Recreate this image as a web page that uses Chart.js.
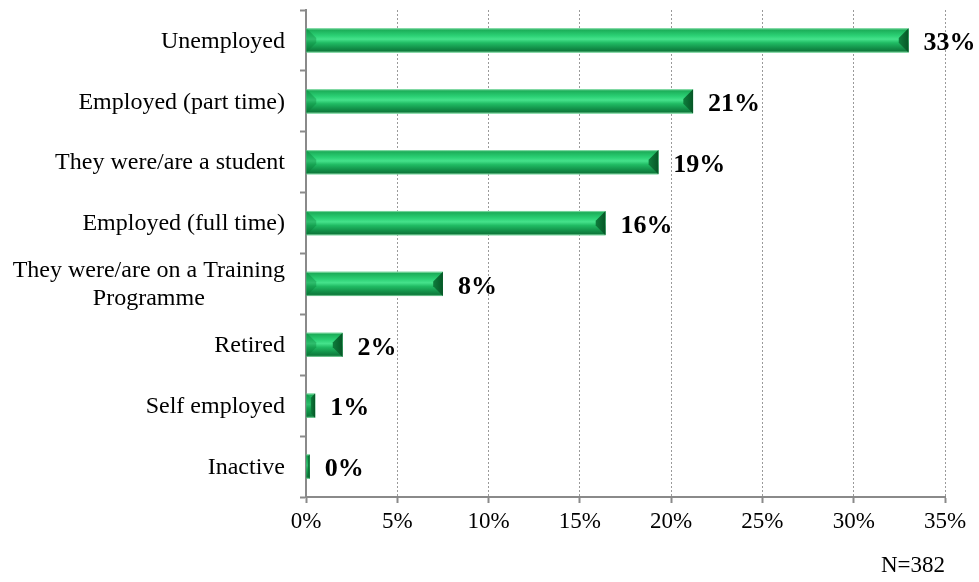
<!DOCTYPE html>
<html>
<head>
<meta charset="utf-8">
<title>Employment status</title>
<script src="https://cdn.jsdelivr.net/npm/chart.js@4.4.1/dist/chart.umd.min.js"></script>
<style>
  html, body { margin: 0; padding: 0; background: #fff; }
  #wrap { width: 979px; height: 582px; }
</style>
</head>
<body>
<div id="wrap"><canvas id="statusChart"></canvas></div>
<script>
const categories = [
  "Unemployed",
  "Employed (part time)",
  "They were/are a student",
  "Employed (full time)",
  ["They were/are on a Training", "Programme"],
  "Retired",
  "Self employed",
  "Inactive"
];
const shares = [33.0, 21.2, 19.3, 16.4, 7.5, 2.0, 0.5, 0.2];
const xTickValues = [0, 5, 10, 15, 20, 25, 30, 35];
const sampleNote = "N=382";

const SERIF = "'Liberation Serif', 'Times New Roman', serif";
const AXIS_GREY = "#8a8a8a";

function pct(v){ return Math.round(v) + "%"; }

// shading over each bar: rounded tube look with bevelled ends
const bevelBars = {
  id: "bevelBars",
  afterDatasetsDraw(chart){
    const c = chart.ctx;
    chart.getDatasetMeta(0).data.forEach(bar=>{
      const p = bar.getProps(["x","y","base","height"], true);
      const top = p.y - p.height/2, bot = p.y + p.height/2;
      const left = Math.min(p.base, p.x), right = Math.max(p.base, p.x);
      const w = right - left, h = bot - top;
      if (w <= 0) return;

      const g = c.createLinearGradient(0, top, 0, bot);
      g.addColorStop(0, "#a4e6bd");
      g.addColorStop(0.07, "#1cae59");
      g.addColorStop(0.3, "#2bd074");
      g.addColorStop(0.45, "#45e28b");
      g.addColorStop(0.6, "#20bb63");
      g.addColorStop(0.82, "#128f48");
      g.addColorStop(0.93, "#0e7b3c");
      g.addColorStop(1, "#8edcab");
      c.save();
      c.fillStyle = g;
      c.fillRect(left, top, w, h);

      const b = Math.min(h*0.4, w/2);
      // right end, dark
      const gr = c.createLinearGradient(right - b, 0, right, 0);
      gr.addColorStop(0, "#0e7d3c");
      gr.addColorStop(1, "#065626");
      c.fillStyle = gr;
      c.beginPath();
      c.moveTo(right, top);
      c.lineTo(right - b, top + b);
      c.lineTo(right - b, bot - b);
      c.lineTo(right, bot);
      c.closePath();
      c.fill();
      // left end, a touch darker than the face
      c.fillStyle = "rgba(6,120,52,0.35)";
      c.beginPath();
      c.moveTo(left, top);
      c.lineTo(left + b, top + b);
      c.lineTo(left + b, bot - b);
      c.lineTo(left, bot);
      c.closePath();
      c.fill();
      c.restore();
    });
  }
};

// category names, value labels and the sample size note
const chartText = {
  id: "chartText",
  afterDraw(chart){
    const c = chart.ctx;
    const yScale = chart.scales.y;
    const labelRight = chart.chartArea.left - 21;
    c.save();
    c.fillStyle = "#000";
    c.textBaseline = "middle";

    c.font = "24px " + SERIF;
    categories.forEach((cat, i)=>{
      const py = yScale.getPixelForValue(i) + 1;
      if (Array.isArray(cat)){
        const widest = Math.max(...cat.map(t=>c.measureText(t).width));
        const cx = labelRight - widest/2;
        const gap = 28;
        const y0 = py - gap*(cat.length - 1)/2;
        c.textAlign = "center";
        cat.forEach((t, k)=> c.fillText(t, cx, y0 + k*gap));
      } else {
        c.textAlign = "right";
        c.fillText(cat, labelRight, py);
      }
    });

    c.font = "bold 26px " + SERIF;
    c.textAlign = "left";
    chart.getDatasetMeta(0).data.forEach((bar, i)=>{
      c.fillText(pct(shares[i]), bar.x + 15, bar.y + 3);
    });

    c.font = "23px " + SERIF;
    c.textAlign = "right";
    c.fillText(sampleNote, chart.chartArea.right, 566);
    c.restore();
  }
};

new Chart(document.getElementById("statusChart"), {
  type: "bar",
  data: {
    labels: categories,
    datasets: [{
      data: shares,
      backgroundColor: "#22b964",
      borderWidth: 0,
      barPercentage: 0.4,
      categoryPercentage: 1.0
    }]
  },
  options: {
    indexAxis: "y",
    responsive: true,
    maintainAspectRatio: false,
    animation: false,
    layout: { padding: { top: 10, right: 34, left: 0, bottom: 0 } },
    plugins: { legend: { display: false }, tooltip: { enabled: false } },
    scales: {
      x: {
        type: "linear",
        min: 0,
        max: 35,
        afterBuildTicks(scale){ scale.ticks = xTickValues.map(v=>({ value: v })); },
        afterFit(scale){ scale.height = 85; },
        ticks: {
          callback: v => v + "%",
          color: "#000",
          padding: 5,
          maxRotation: 0,
          autoSkip: false,
          font: { family: SERIF, size: 23 }
        },
        grid: {
          color: "#9a9a9a",
          lineWidth: 1,
          tickLength: 6,
          tickColor: AXIS_GREY,
          tickWidth: 2
        },
        border: { color: AXIS_GREY, width: 2, dash: [2, 2] }
      },
      y: {
        type: "category",
        offset: true,
        afterFit(scale){ scale.width = 306; },
        ticks: { display: false },
        grid: {
          offset: true,
          drawOnChartArea: false,
          tickLength: 6,
          tickColor: AXIS_GREY,
          tickWidth: 2
        },
        border: { color: AXIS_GREY, width: 2 }
      }
    }
  },
  plugins: [bevelBars, chartText]
});
</script>
</body>
</html>
